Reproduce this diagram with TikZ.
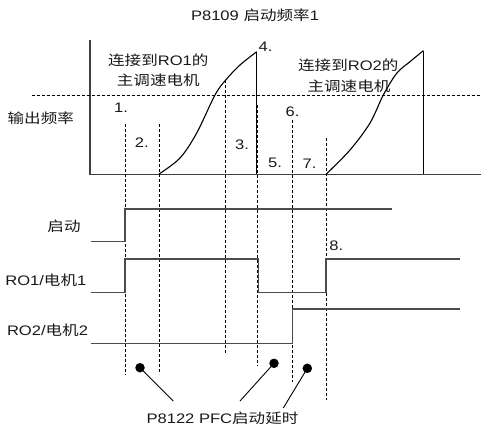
\documentclass[tikz,border=0pt]{standalone}
\usepackage{fontspec}
\setmainfont[FakeStretch=1.2]{Liberation Sans}
\newfontfamily\cjkfont[FakeStretch=1.2]{Noto Sans CJK SC}
\newcommand{\zhtext}[1]{{\cjkfont #1}}
\begin{document}
\begin{tikzpicture}[x=1pt,y=-1pt,
  txt/.style={inner sep=0pt, font=\fontsize{13.8}{15}\selectfont, text=black!90},
  axisline/.style={line width=1.3pt, black!75},
  sigline/.style={line width=1.3pt, black!70},
  guide/.style={line width=0.9pt, black, dash pattern=on 3pt off 2pt},
  curveline/.style={line width=1.1pt, black},
  dotmark/.style={circle, fill=black, inner sep=0pt, minimum size=9.5pt},
  leader/.style={line width=0.9pt, black}
]
\useasboundingbox (0,0) rectangle (481,426);

% title and labels
\node[txt] (title) at (255,15) {P8109 \zhtext{启动频率}1};
\node[txt] (yl) at (40.8,118) {\zhtext{输出频率}};
\node[txt] (m1a) at (158.3,60) {\zhtext{连接到}RO1\zhtext{的}};
\node[txt] (m1b) at (158.3,80) {\zhtext{主调速电机}};
\node[txt] (m2a) at (348.3,65) {\zhtext{连接到}RO2\zhtext{的}};
\node[txt] (m2b) at (349,86.5) {\zhtext{主调速电机}};

% axes
\coordinate (ytop) at (90,40);
\coordinate (orig) at (90,174.3);
\coordinate (xend) at (481,174.3);
\draw[axisline] (ytop) -- (orig) -- (xend);
\coordinate (hl) at (31.7,95);
\coordinate (hr) at (481,95);
\draw[guide] (hl) -- (hr);

% curves
\draw[curveline] plot[smooth, tension=0.55] coordinates {(159,174) (180,158) (196.7,133) (215,95) (225.7,80) (240,65) (256.7,51.7)};
\draw[curveline] (256.7,51.7) -- (256.7,174.3);
\draw[curveline] plot[smooth, tension=0.55] coordinates {(326,174.3) (350,150) (370,123) (383.3,95) (396.7,73.3) (410,61.7) (423.3,50.7)};
\draw[curveline] (423.3,50.7) -- (423.3,174.3);

% guide lines
\draw[guide] (125,124) -- (125,375);
\draw[guide] (159,124) -- (159,374);
\draw[guide] (225.7,80) -- (225.7,354);
\draw[guide] (257.5,105) -- (257.5,365.7);
\draw[guide] (292.7,120) -- (292.7,381.7);
\draw[guide] (326,138) -- (326,400);

% step numbers
\node[txt] (n1) at (121,108) {1.};
\node[txt] (n2) at (141.7,142.7) {2.};
\node[txt] (n3) at (242,145) {3.};
\node[txt] (n4) at (265.5,46.7) {4.};
\node[txt] (n5) at (275,163.3) {5.};
\node[txt] (n6) at (292.5,111.7) {6.};
\node[txt] (n7) at (309.6,163.3) {7.};
\node[txt] (n8) at (336.3,245.7) {8.};

% signals
\node[txt] (s1) at (64,226) {\zhtext{启动}};
\node[txt] (s2) at (45.8,280) {RO1/\zhtext{电机}1};
\node[txt] (s3) at (47.5,330) {RO2/\zhtext{电机}2};
\draw[sigline] (91,241.7) -- (125,241.7) -- (125,209) -- (391.7,209);
\draw[sigline] (91,292.3) -- (125,292.3) -- (125,259) -- (258.7,259) -- (258.7,292.3) -- (326,292.3) -- (326,259) -- (460,259);
\draw[sigline] (91,343.3) -- (292.7,343.3) -- (292.7,309) -- (460,309);

% delay markers
\node[dotmark] (d1) at (140,367.7) {};
\node[dotmark] (d2) at (274,363.3) {};
\node[dotmark] (d3) at (307.3,368.3) {};
\node[txt] (pfc) at (222.5,418) {P8122 PFC\zhtext{启动延时}};
\coordinate (e1) at (173.3,401);
\coordinate (e2) at (240,401);
\coordinate (e3) at (283.3,408);
\draw[leader] (d1.center) -- (e1);
\draw[leader] (d2.center) -- (e2);
\draw[leader] (d3.center) -- (e3);
\end{tikzpicture}
\end{document}
